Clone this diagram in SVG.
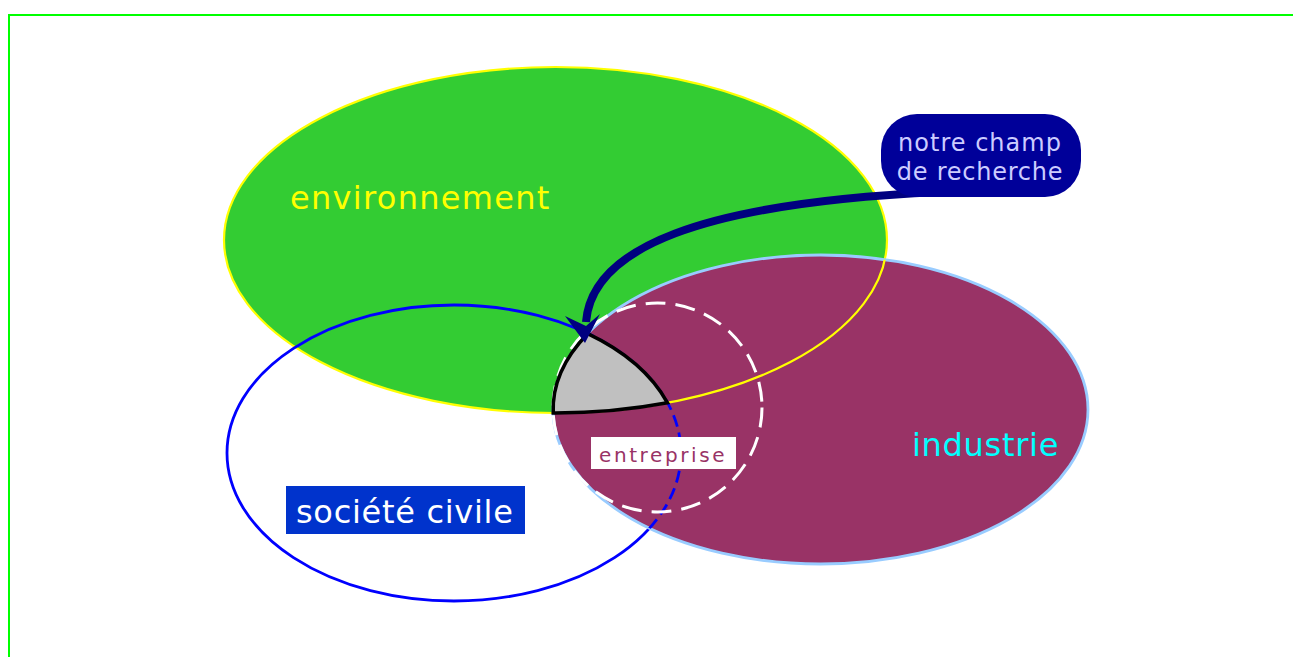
<svg xmlns="http://www.w3.org/2000/svg" width="1293" height="657" viewBox="0 0 1293 657">
  <style>
    .lbl { font-family: "DejaVu Sans", Verdana, sans-serif; }
  </style>
  <defs>
    <clipPath id="purpleClip">
      <ellipse cx="820.5" cy="409.5" rx="267.5" ry="154.5"/>
    </clipPath>
  </defs>
  <rect x="0" y="0" width="1293" height="657" fill="#ffffff"/>
  <rect id="frame" x="9" y="15" width="1300" height="700" fill="none" stroke="#00ff00" stroke-width="2"/>

  <g id="environnement-shape">
    <ellipse cx="555.5" cy="240" rx="331.5" ry="173" fill="#33cc33" stroke="#ffff00" stroke-width="2.2"/>
  </g>
  <g id="societe-shape">
    <ellipse cx="454" cy="453" rx="227" ry="148" fill="none" stroke="#0000ff" stroke-width="2.8"/>
  </g>
  <g id="industrie-shape">
    <ellipse cx="820.5" cy="409.5" rx="267.5" ry="154.5" fill="#993366" stroke="#99ccff" stroke-width="2.8"/>
  </g>
  <g id="overlays">
    <ellipse cx="555.5" cy="240" rx="331.5" ry="173" fill="none" stroke="#ffff00" stroke-width="2.2" clip-path="url(#purpleClip)"/>
    <ellipse cx="454" cy="453" rx="227" ry="148" fill="none" stroke="#0000ff" stroke-width="2.8" stroke-dasharray="12 6" clip-path="url(#purpleClip)"/>
  </g>
  <g id="entreprise-circle">
    <circle cx="657.5" cy="407.5" r="104.5" fill="none" stroke="#ffffff" stroke-width="3" stroke-dasharray="20 10"/>
  </g>
  <g id="champ-intersection">
    <path d="M553.2,413 A267.5,154.5 0 0 1 587.7,333.7 A227,148 0 0 1 667.5,402.8 A331.5,173 0 0 1 553.2,413 Z" fill="#c0c0c0" stroke="#000000" stroke-width="3.5" stroke-linejoin="miter"/>
  </g>

  <g id="connectors">
    <path d="M940,192 C700,203 592,248 586,322" fill="none" stroke="#000080" stroke-width="8"/>
    <path d="M565,316 L585,343 L600,314 L586,326 Z" fill="#000080"/>
  </g>

  <g id="label-environnement">
    <text class="lbl" x="290" y="209" font-size="32" fill="#ffff00" letter-spacing="1.3">environnement</text>
  </g>
  <g id="label-industrie">
    <text class="lbl" x="912" y="456" font-size="32" fill="#00ffff" letter-spacing="0.7">industrie</text>
  </g>
  <g id="label-societe">
    <rect x="286" y="486" width="239" height="48" fill="#0033cc"/>
    <text class="lbl" x="296" y="523" font-size="32" fill="#ffffff" letter-spacing="0.7">société civile</text>
  </g>
  <g id="label-entreprise">
    <rect x="591" y="437" width="145" height="32" fill="#ffffff"/>
    <text class="lbl" x="599" y="462" font-size="20" fill="#993366" letter-spacing="2.6">entreprise</text>
  </g>
  <g id="label-champ">
    <rect x="881" y="114" width="200" height="83" rx="36" ry="36" fill="#000099"/>
    <text class="lbl" x="980" y="151" font-size="24" fill="#ccccff" letter-spacing="1" text-anchor="middle">notre champ</text>
    <text class="lbl" x="980" y="180" font-size="24" fill="#ccccff" letter-spacing="0.75" text-anchor="middle">de recherche</text>
  </g>
</svg>
